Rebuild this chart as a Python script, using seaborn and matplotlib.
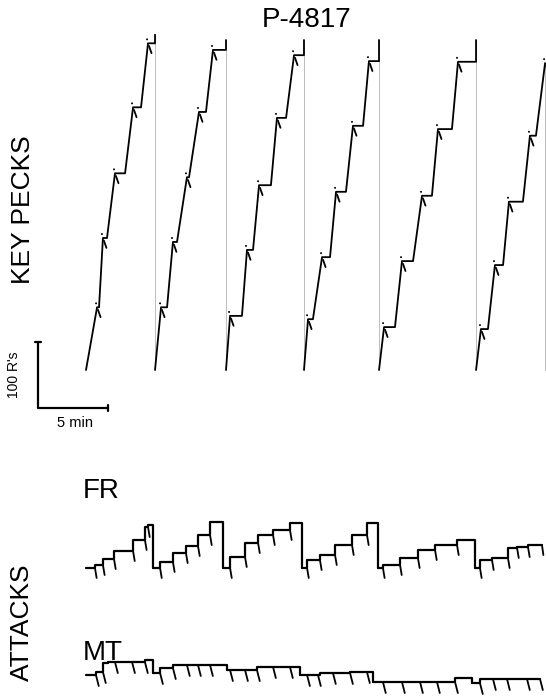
import matplotlib
matplotlib.use("Agg")
import matplotlib.pyplot as plt
import seaborn as sns
import pandas as pd

# ---- data (time in min, key pecks in responses, attacks in record units) ----
kp_start = [0.0, 4.93, 10.0, 15.57, 20.93, 27.86]
kp_run_end = [
    [0.79, 1.21, 2.07, 3.36, 4.43],
    [5.36, 6.21, 7.21, 8.07, 9.07],
    [10.29, 11.5, 12.36, 13.64, 14.86],
    [15.86, 16.86, 17.86, 19.07, 20.21],
    [21.29, 22.57, 24.0, 25.14, 26.57],
    [28.21, 29.21, 30.21, 31.71, 32.79],
]
kp_pause_end = [
    [0.93, 1.5, 2.79, 3.93, 4.93],
    [5.79, 6.5, 7.36, 8.57, 10.0],
    [11.14, 11.93, 13.21, 14.29, 15.57],
    [16.21, 17.43, 18.57, 19.79, 20.93],
    [22.07, 23.36, 24.71, 26.14, 27.86],
    [28.71, 29.79, 31.21, 32.14, 32.79],
]
kp_steps = [
    [95, 200, 298, 398, 495],
    [95, 194, 292, 391, 485],
    [82, 182, 280, 382, 477],
    [77, 171, 270, 370, 468],
    [65, 165, 264, 365, 467],
    [62, 159, 255, 355, 465],
]
kp_top = [508, 500, 500, 500, 500, 465]

fr_start = [0.0, 4.79, 9.79, 15.43, 20.86, 27.79]
fr_end = [4.79, 9.79, 15.43, 20.86, 27.79, 32.57]
fr_step_t = [
    [0.64, 1.21, 2.0, 3.36, 4.21, 4.43],
    [5.29, 6.21, 7.14, 8.0, 8.86],
    [10.29, 11.36, 12.29, 13.36, 14.57],
    [15.79, 16.71, 17.79, 19.0, 20.07],
    [21.21, 22.43, 23.71, 24.93, 26.5],
    [28.14, 29.0, 30.14, 30.79, 31.57],
]
fr_level = [
    [3, 9, 17, 28, 41, 43],
    [6, 15, 22, 33, 46],
    [11, 25, 33, 38, 45],
    [8, 13, 23, 33, 45],
    [3, 10, 18, 23, 28],
    [8, 10, 20, 21, 23],
]

mt_start = [0.0, 4.79, 10.07, 15.29, 20.5, 27.57]
mt_end = [4.79, 10.07, 15.29, 20.5, 27.57, 32.43]
mt_base = [8, 10, 13, 8, 1, 0]
mt_step_t = [[0.71, 1.21, 1.57, 4.21], [5.29, 6.21], [12.21], [16.71, 18.86], [26.36], [28.14]]
mt_level = [[11, 20, 21, 23], [15, 18], [16], [10, 11], [5], [4]]
mt_tick_t = [
    [0.71, 1.21, 2.07, 3.29, 4.21],
    [5.29, 6.21, 7.21, 8.0, 8.86],
    [10.29, 11.36, 12.21, 13.36, 14.57],
    [15.79, 16.57, 17.64, 18.86, 20.07],
    [21.21, 22.57, 23.86, 25.07, 26.36],
    [28.14, 29.07, 30.07, 31.5, 32.43],
]

scale_min = 5
scale_resp = 100

# ---- layout (pixels) ----
W, H = 546, 700
PX_MIN = 14.0   # px per minute
T0 = 86         # px of t = 0
PX_R = 0.66     # px per response
sns.set_style("white")
plt.rcParams["font.family"] = ["Liberation Sans", "DejaVu Sans"]
plt.rcParams["text.color"] = "black"

fig = plt.figure(figsize=(W / 100, H / 100), dpi=100)


def axes_px(y0, y1, base_px, px_unit):
    ax = fig.add_axes([0, 1 - y1 / H, 1, (y1 - y0) / H])
    ax.set_xlim(-T0 / PX_MIN, (W - T0) / PX_MIN)
    ax.set_ylim((base_px - y1) / px_unit, (base_px - y0) / px_unit)
    ax.axis("off")
    return ax


def draw_path(ax, rows, lw, color="black"):
    df = pd.DataFrame(rows, columns=["t", "y", "seg"])
    sns.lineplot(data=df, x="t", y="y", units="seg", estimator=None, sort=False,
                 color=color, linewidth=lw, ax=ax, legend=False)


# key pecks
ax_kp = axes_px(20, 445, 370, PX_R)
rows, pips, resets = [], [], []
for c in range(6):
    rows.append((kp_start[c], 0, c))
    for k in range(5):
        rows.append((kp_run_end[c][k], kp_steps[c][k], c))
        rows.append((kp_pause_end[c][k], kp_steps[c][k], c))
    rows.append((kp_pause_end[c][-1], kp_top[c], c))
    t_r = kp_pause_end[c][-1]
    resets += [(t_r, kp_top[c], c), (t_r, 0, c)]
    for k in range(5):
        t, r = kp_run_end[c][k], kp_steps[c][k]
        pips += [(t + 0.07, r - 4, c * 10 + k), (t + 0.25, r - 15, c * 10 + k)]
draw_path(ax_kp, resets, 0.7, "#bdbdbd")
draw_path(ax_kp, rows, 1.3)
draw_path(ax_kp, pips, 1.3)
dots = pd.DataFrame([(kp_run_end[c][k] - 0.07, kp_steps[c][k] + 6)
                     for c in range(6) for k in range(5)], columns=["t", "y"])
sns.scatterplot(data=dots, x="t", y="y", s=2, color="black", edgecolor="none", ax=ax_kp)

# scale bar
sx, sy = (38 - T0) / PX_MIN, (370 - 408) / PX_R
draw_path(ax_kp, [(sx, sy + scale_resp, 0), (sx, sy, 0), (sx + scale_min, sy, 0)], 1.6)
ax_kp.plot([sx - 0.2, sx + 0.2], [sy + scale_resp] * 2, color="black", lw=1.6)
ax_kp.plot([sx + scale_min] * 2, [sy - 5, sy + 5], color="black", lw=1.6)

# FR attacks
ax_fr = axes_px(455, 605, 568, 1.0)
rows, ticks = [], []
for c in range(6):
    lvl = 0
    rows.append((fr_start[c], 0, c))
    for t, l in zip(fr_step_t[c], fr_level[c]):
        ticks += [(t, lvl, len(ticks)), (t + 0.12, lvl - 10, len(ticks))]
        rows += [(t, lvl, c), (t, l, c)]
        lvl = l
    rows.append((fr_end[c], lvl, c))
    if c < 5:
        rows.append((fr_end[c], 0, c))
    else:
        ticks += [(fr_end[c], lvl, len(ticks)), (fr_end[c] + 0.1, lvl - 10, len(ticks))]
draw_path(ax_fr, rows, 1.6)
draw_path(ax_fr, ticks, 1.3)

# MT attacks
ax_mt = axes_px(610, 700, 683, 1.0)
rows, ticks = [], []
for c in range(6):
    lvl = mt_base[c]
    rows.append((mt_start[c], lvl, c))
    for t, l in zip(mt_step_t[c], mt_level[c]):
        rows += [(t, lvl, c), (t, l, c)]
        lvl = l
    rows.append((mt_end[c], lvl, c))
    if c < 5:
        rows.append((mt_end[c], mt_base[c + 1], c))
    for t in mt_tick_t[c]:
        cur = mt_base[c]
        for st, l in zip(mt_step_t[c], mt_level[c]):
            if st < t:
                cur = l
        ticks += [(t, cur, len(ticks)), (t + 0.2, cur - 11, len(ticks))]
draw_path(ax_mt, rows, 1.6)
draw_path(ax_mt, ticks, 1.3)

# text
fig.text(307 / W, 1 - 20 / H, "P-4817", ha="center", va="center", fontsize=20)
fig.text(23 / W, 1 - 210 / H, "KEY PECKS", rotation=90, ha="center", va="center", fontsize=19)
fig.text(14 / W, 1 - 375 / H, "100 R's", rotation=90, ha="center", va="center", fontsize=10)
fig.text(75 / W, 1 - 423 / H, "5 min", ha="center", va="center", fontsize=10.5)
fig.text(83 / W, 1 - 498 / H, "FR", ha="left", va="baseline", fontsize=20)
fig.text(83 / W, 1 - 660 / H, "MT", ha="left", va="baseline", fontsize=20)
fig.text(22 / W, 1 - 622 / H, "ATTACKS", rotation=90, ha="center", va="center", fontsize=19)

fig.savefig("out.png", dpi=100)
